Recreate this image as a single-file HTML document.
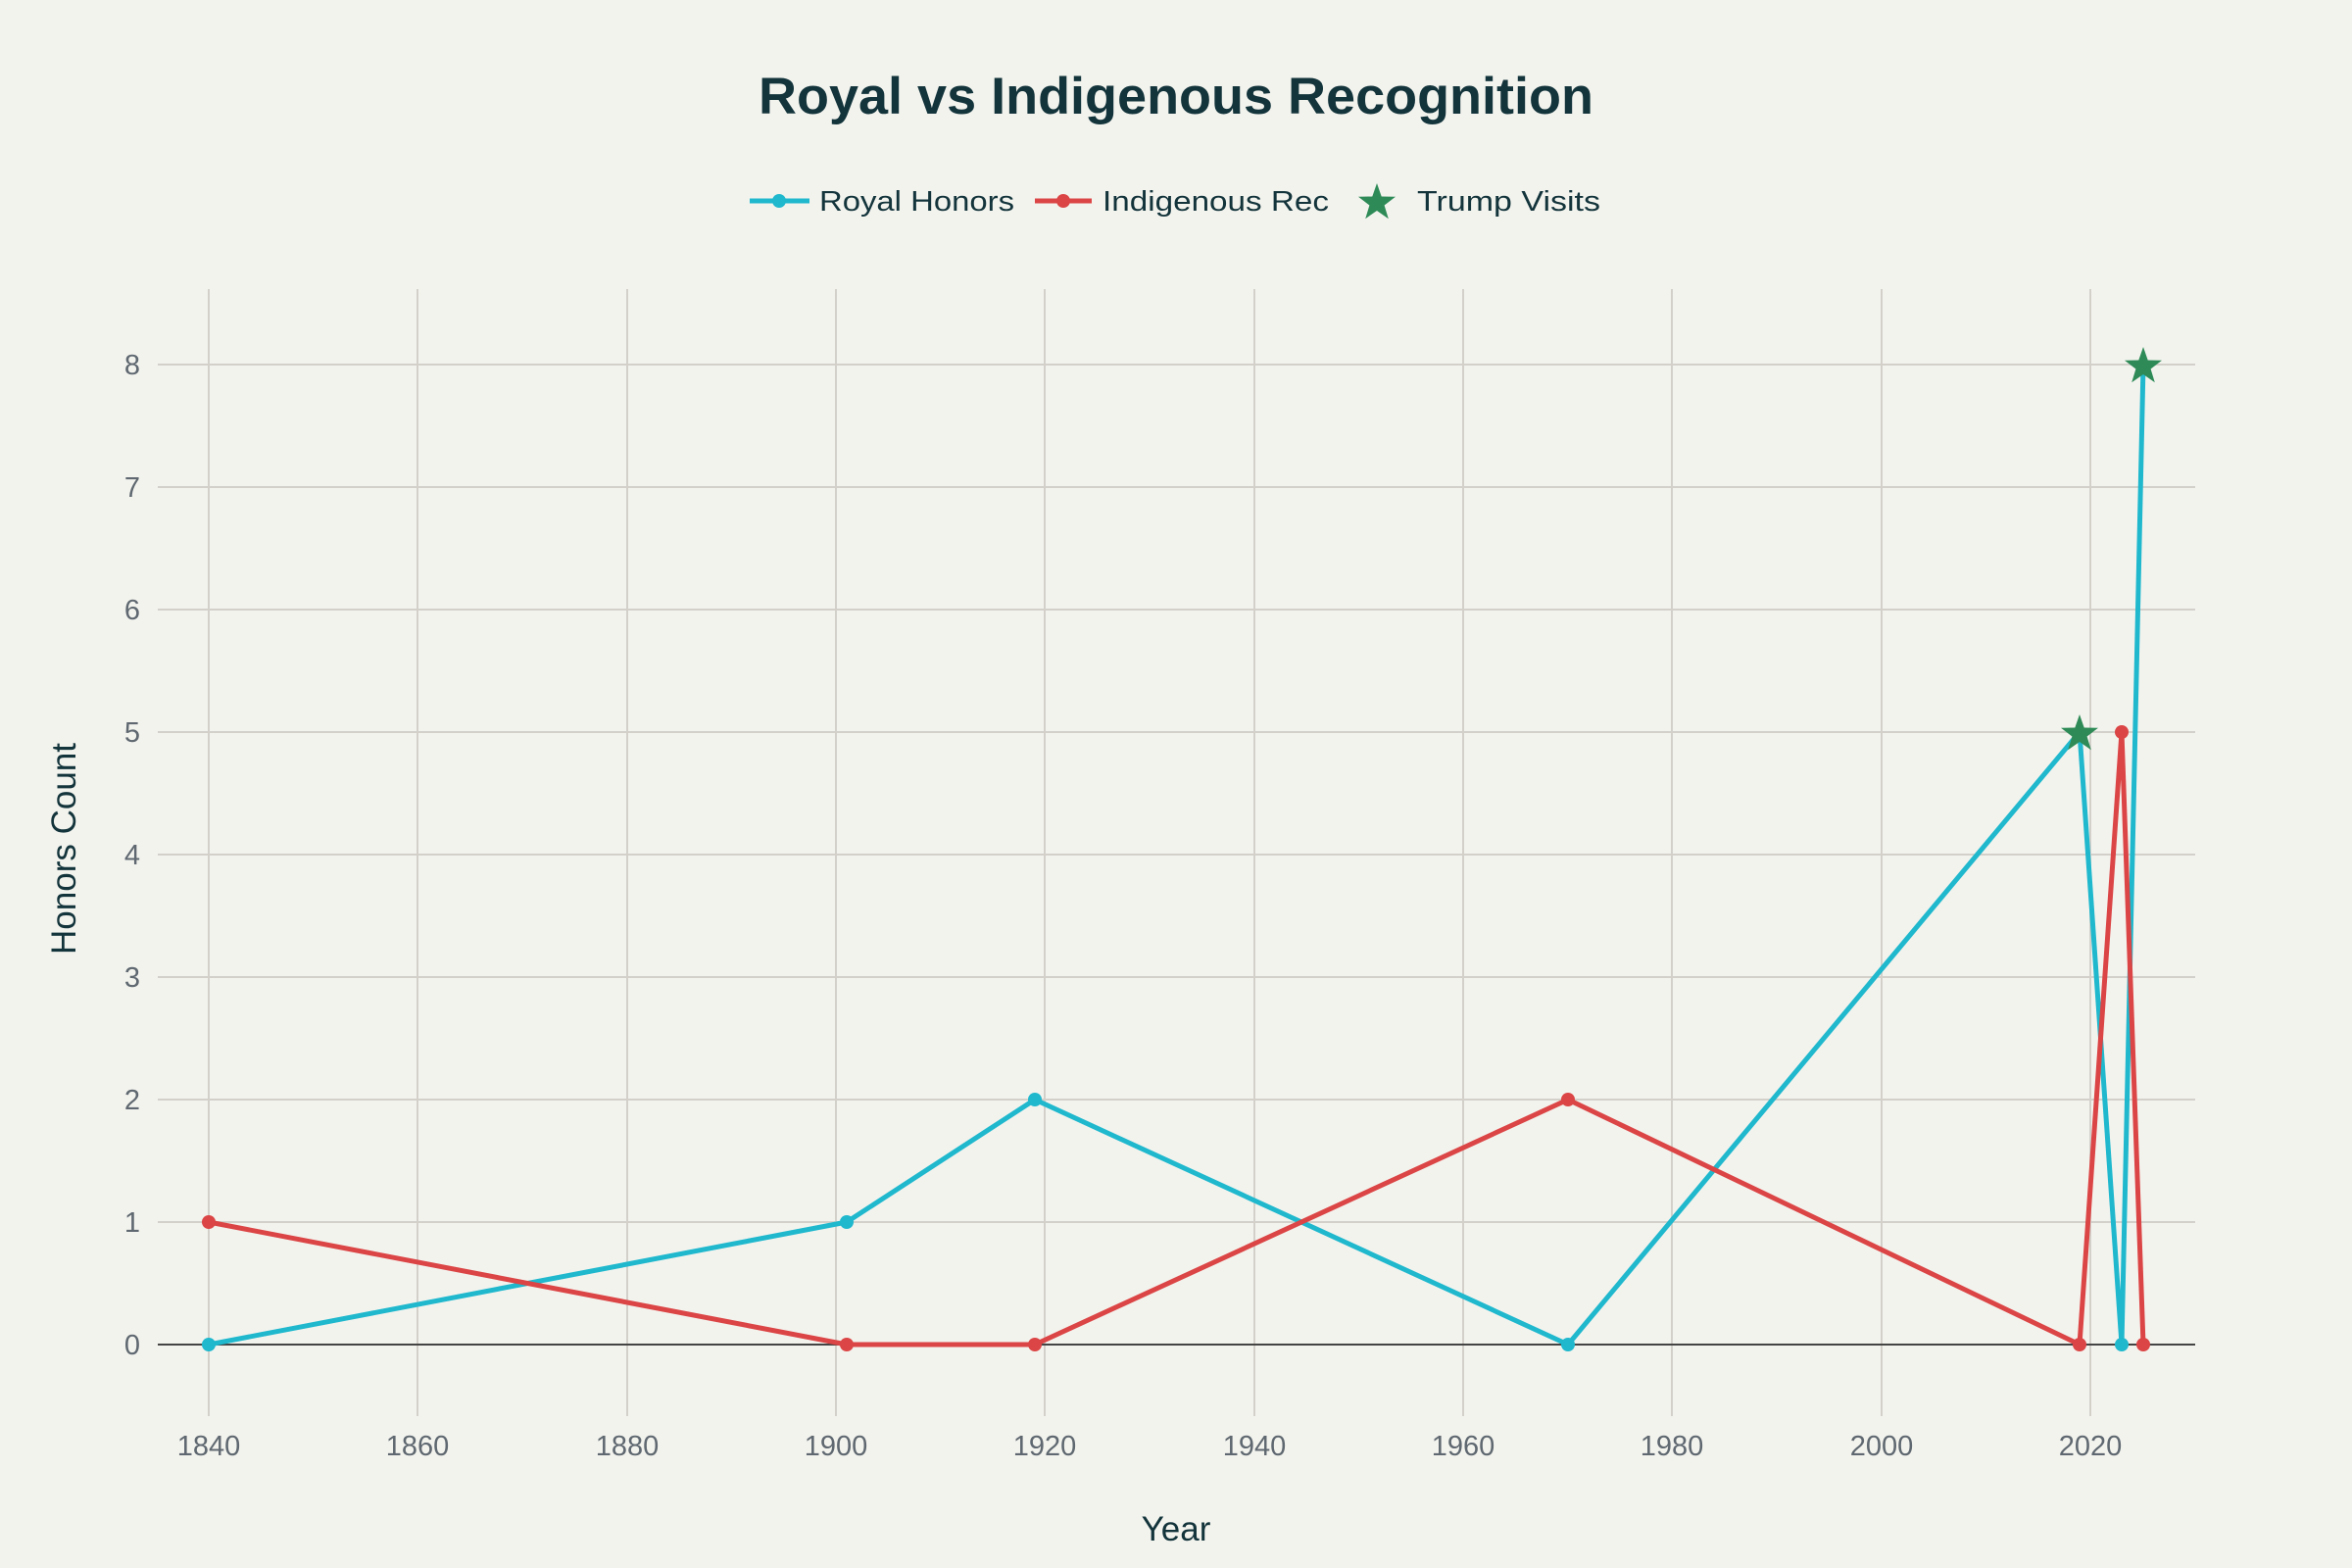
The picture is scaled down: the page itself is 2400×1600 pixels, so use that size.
<!DOCTYPE html>
<html><head><meta charset="utf-8"><style>
html,body{margin:0;padding:0;background:#f3f3ee;}
svg{display:block;}
text{font-family:"Liberation Sans",sans-serif;}
</style></head><body>
<svg width="2400" height="1600" viewBox="0 0 2400 1600" xmlns="http://www.w3.org/2000/svg">
<rect width="2400" height="1600" fill="#f3f3ee"/>
<g stroke="#d3d0ca" stroke-width="2">
<line x1="213" y1="295" x2="213" y2="1445"/>
<line x1="426" y1="295" x2="426" y2="1445"/>
<line x1="640" y1="295" x2="640" y2="1445"/>
<line x1="853" y1="295" x2="853" y2="1445"/>
<line x1="1066" y1="295" x2="1066" y2="1445"/>
<line x1="1280" y1="295" x2="1280" y2="1445"/>
<line x1="1493" y1="295" x2="1493" y2="1445"/>
<line x1="1706" y1="295" x2="1706" y2="1445"/>
<line x1="1920" y1="295" x2="1920" y2="1445"/>
<line x1="2133" y1="295" x2="2133" y2="1445"/>
<line x1="161" y1="1247" x2="2240" y2="1247"/>
<line x1="161" y1="1122" x2="2240" y2="1122"/>
<line x1="161" y1="997" x2="2240" y2="997"/>
<line x1="161" y1="872" x2="2240" y2="872"/>
<line x1="161" y1="747" x2="2240" y2="747"/>
<line x1="161" y1="622" x2="2240" y2="622"/>
<line x1="161" y1="497" x2="2240" y2="497"/>
<line x1="161" y1="372" x2="2240" y2="372"/>
</g>
<line x1="161" y1="1372" x2="2240" y2="1372" stroke="#444" stroke-width="2"/>
<g font-size="29" fill="#5f6870" text-anchor="end">
<text x="143" y="1382">0</text><text x="143" y="1257">1</text><text x="143" y="1132">2</text>
<text x="143" y="1007">3</text><text x="143" y="882">4</text><text x="143" y="757">5</text>
<text x="143" y="632">6</text><text x="143" y="507">7</text><text x="143" y="382">8</text>
</g>
<g font-size="29" fill="#5f6870" text-anchor="middle">
<text x="213" y="1485">1840</text><text x="426" y="1485">1860</text><text x="640" y="1485">1880</text>
<text x="853" y="1485">1900</text><text x="1066" y="1485">1920</text><text x="1280" y="1485">1940</text>
<text x="1493" y="1485">1960</text><text x="1706" y="1485">1980</text><text x="1920" y="1485">2000</text>
<text x="2133" y="1485">2020</text>
</g>
<text x="1200" y="1572" font-size="35" fill="#13343b" text-anchor="middle">Year</text>
<text transform="translate(77,866) rotate(-90)" font-size="35" fill="#13343b" text-anchor="middle">Honors Count</text>
<text x="774" y="116" font-size="53" font-weight="bold" fill="#13343b" textLength="852" lengthAdjust="spacingAndGlyphs">Royal vs Indigenous Recognition</text>
<polyline fill="none" stroke="#1fb8cd" stroke-width="5" stroke-linejoin="round" points="213,1372 864,1247 1056,1122 1600,1372 2122,747 2165,1372 2187,372"/>
<polyline fill="none" stroke="#db4545" stroke-width="5" stroke-linejoin="round" points="213,1247 864,1372 1056,1372 1600,1122 2122,1372 2165,747 2187,1372"/>
<g fill="#1fb8cd"><circle cx="213" cy="1372" r="7"/><circle cx="864" cy="1247" r="7"/><circle cx="1056" cy="1122" r="7"/><circle cx="1600" cy="1372" r="7"/><circle cx="2165" cy="1372" r="7"/></g>
<g fill="#db4545"><circle cx="213" cy="1247" r="7"/><circle cx="864" cy="1372" r="7"/><circle cx="1056" cy="1372" r="7"/><circle cx="1600" cy="1122" r="7"/><circle cx="2122" cy="1372" r="7"/><circle cx="2165" cy="747" r="7"/><circle cx="2187" cy="1372" r="7"/></g>
<defs><path id="st" d="M0,-20 L4.7,-6.5 L19,-6.2 L7.6,2.5 L11.8,16.2 L0,8 L-11.8,16.2 L-7.6,2.5 L-19,-6.2 L-4.7,-6.5 Z"/></defs>
<use href="#st" x="2122" y="749" fill="#2e8b57"/>
<use href="#st" x="2187" y="374" fill="#2e8b57"/>
<line x1="765" y1="205" x2="826" y2="205" stroke="#1fb8cd" stroke-width="5"/><circle cx="795" cy="205" r="7" fill="#1fb8cd"/>
<text x="836" y="215" font-size="29" fill="#13343b" textLength="199" lengthAdjust="spacingAndGlyphs">Royal Honors</text>
<line x1="1056" y1="205" x2="1114" y2="205" stroke="#db4545" stroke-width="5"/><circle cx="1085" cy="205" r="7" fill="#db4545"/>
<text x="1125" y="215" font-size="29" fill="#13343b" textLength="231" lengthAdjust="spacingAndGlyphs">Indigenous Rec</text>
<use href="#st" x="1405" y="207" fill="#2e8b57"/>
<text x="1446" y="215" font-size="29" fill="#13343b" textLength="187" lengthAdjust="spacingAndGlyphs">Trump Visits</text>
</svg>
</body></html>
